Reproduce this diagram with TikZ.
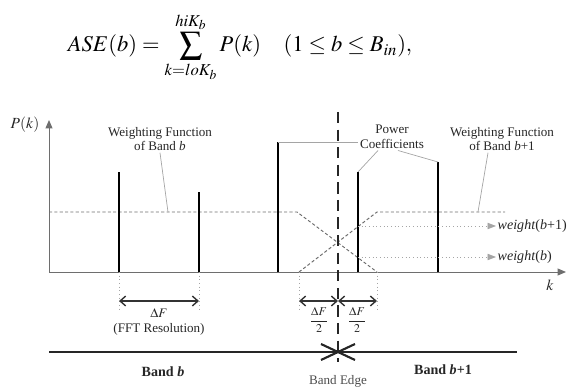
\documentclass[tikz,border=0pt]{standalone}
\usepackage{amsmath}
\usepackage[no-math]{fontspec}
\usepackage{mathptmx}
\setmainfont{Liberation Serif}
\usetikzlibrary{arrows.meta,positioning,calc}
\definecolor{gris}{RGB}{110,110,110}
\definecolor{grisclaro}{RGB}{165,165,165}
\tikzset{
  barra/.style={line width=1.7pt,black},
  eje/.style={-{Triangle[length=6pt,width=5pt]},gris,line width=0.7pt},
  ponder/.style={gris,line width=0.7pt,dash pattern=on 2.2pt off 1.6pt},
  borde/.style={line width=1.8pt,black!85,dash pattern=on 8pt off 4.5pt},
  guia/.style={grisclaro,line width=0.5pt},
  cota/.style={grisclaro,line width=0.6pt,dotted},
  medida/.style={{Straight Barb[length=4pt,width=7pt]}-{Straight Barb[length=4pt,width=7pt]},line width=1pt,black!80},
  salida/.style={-{Triangle[length=6pt,width=4.5pt]},grisclaro,line width=0.6pt,dotted},
  txt/.style={font=\fontsize{9.3}{10.6}\selectfont,align=center,text=black!85,inner sep=1pt},
}
\begin{document}
\begin{tikzpicture}[x=0.025cm,y=-0.025cm]
  \useasboundingbox (0,0) rectangle (567,387);
  % ecuacion
  \node[font=\fontsize{16}{19}\selectfont] (ec) at (240,47)
    {$\displaystyle ASE(b)=\sum_{k=loK_b}^{hiK_b}P(k)\quad(1\le b\le B_{in}),$};
  % ejes
  \coordinate (o) at (49,272);
  \draw[eje] (o) -- (49,120) coordinate (ytop);
  \draw[eje] (o) -- (566,272) coordinate (xend);
  \node[txt,font=\fontsize{11}{12}\selectfont] (pk) at (25,125) {$P(k)$};
  \node[txt,font=\fontsize{11}{12}\selectfont] (k) at (550,285) {$k$};
  % funciones de ponderacion
  \draw[ponder] (49,212) -- (297,212) coordinate (b1) -- (377,272) coordinate (b2);
  \draw[ponder] (299,272) coordinate (c1) -- (377,212) coordinate (c2) -- (505,212);
  % coeficientes de potencia
  \foreach \n/\x/\t in {1/119/172,2/199/192,3/278/142,4/358/172,5/438/162}{
    \coordinate (p\n) at (\x,272);
    \coordinate (t\n) at (\x,\t);
    \draw[barra] (p\n) -- (t\n);
  }
  % borde de banda
  \draw[borde] (338,112) coordinate (e1) -- (338,362) coordinate (e2);
  % salidas
  \coordinate (w1) at (358,226);
  \coordinate (w0) at (358,257);
  \node[txt,anchor=west,font=\fontsize{10}{12}\selectfont\itshape] (wb1) at (496,226) {weight\textup{(}b\textup{+1)}};
  \node[txt,anchor=west,font=\fontsize{10}{12}\selectfont\itshape] (wb) at (496,257) {weight\textup{(}b\textup{)}};
  \draw[salida] (w1) -- (wb1.west);
  \draw[salida] (w0) -- (wb.west);
  % rotulos
  \node[txt] (wfb) at (160,139) {Weighting Function\\of Band \textit{b}};
  \node[txt] (wfb1) at (502,139) {Weighting Function\\of Band \textit{b}+1};
  \node[txt] (pc) at (392,137) {Power\\Coefficients};
  \draw[guia] (wfb.south) -- (168,212);
  \draw[guia] ($(wfb1.south)+(-14,0)$) -- (478,212);
  \draw[guia] (t3) -- (t3 -| pc.west);
  \draw[guia] ($(pc.south)+(-14,0)$) -- (t4);
  \draw[guia] ($(pc.south)+(6,0)$) -- (t5);
  % resolucion
  \draw[cota] (p1) -- ++(0,40) coordinate (d1);
  \draw[cota] (p2) -- ++(0,40) coordinate (d2);
  \draw[cota] (c1) -- ++(0,40) coordinate (d3);
  \draw[cota] (b2) -- ++(0,40) coordinate (d4);
  \draw[medida] (119,301) -- (199,301);
  \draw[medida] (299,301) -- (338,301);
  \draw[medida] (338,301) -- (377,301);
  \node[txt] (df) at (159,322) {$\Delta F$\\(FFT Resolution)};
  \node[txt,font=\fontsize{8.5}{10}\selectfont] (df1) at (319,320) {$\dfrac{\Delta F}{2}$};
  \node[txt,font=\fontsize{8.5}{10}\selectfont] (df2) at (357,320) {$\dfrac{\Delta F}{2}$};
  % bandas
  \draw[line width=1.9pt,black!85] (49,352) coordinate (l0) -- (517,352) coordinate (l1);
  \draw[line width=1.5pt,black!85] (321,344) -- (355,360) (321,360) -- (355,344);
  \node[txt,font=\fontsize{10}{12}\selectfont\bfseries] (bb) at (163,372) {Band \textit{b}};
  \node[txt,font=\fontsize{10}{12}\selectfont\bfseries] (bb1) at (443,370) {Band \textit{b}+1};
  \node[txt,text=black!70] (be) at (338,381) {Band Edge};
\end{tikzpicture}
\end{document}
